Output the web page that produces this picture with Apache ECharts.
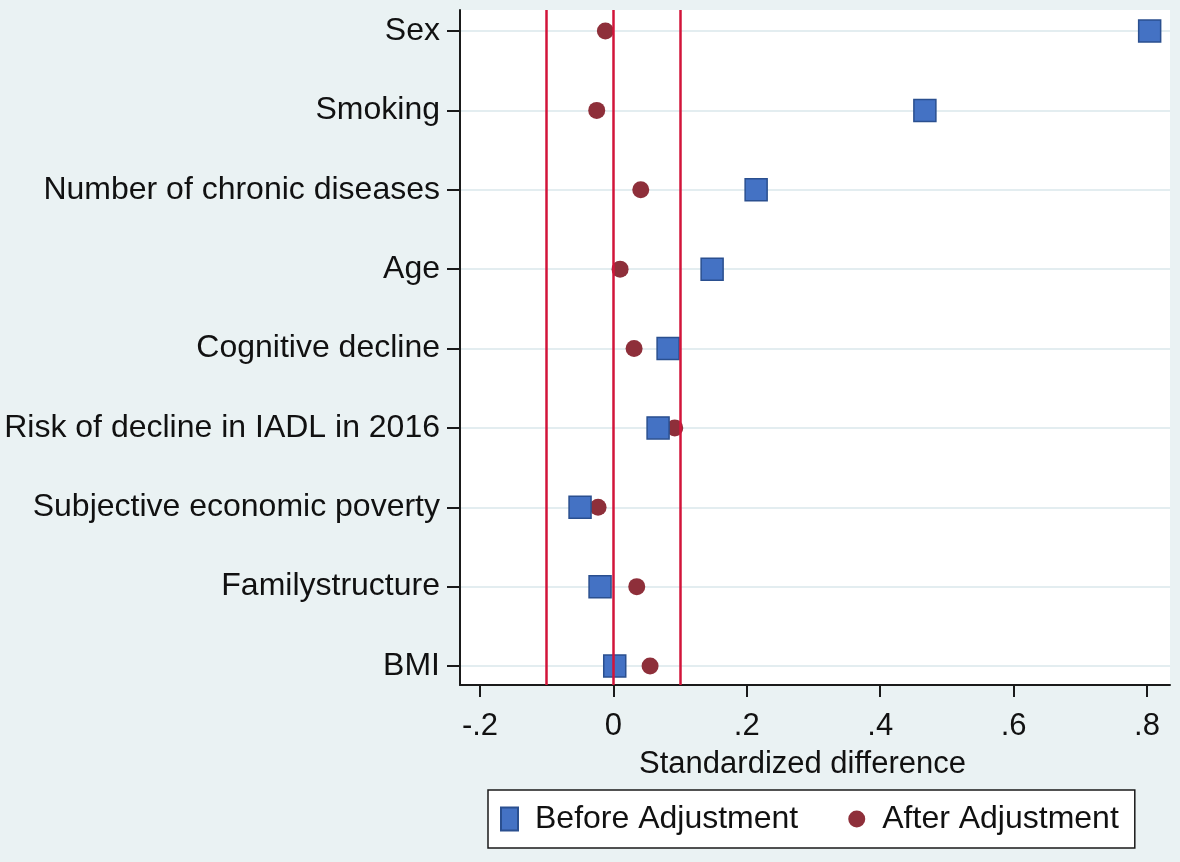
<!DOCTYPE html>
<html>

<head>
  <meta charset="utf-8">
  <title>Standardized difference</title>
  <script src="https://cdn.jsdelivr.net/npm/echarts/dist/echarts.min.js"></script>
  <style>
    html, body { margin: 0; padding: 0; background: #eaf2f3; }
    #chart { width: 1180px; height: 862px; }
  </style>
</head>

<body>
  <div id="chart"></div>
  <script>
    // covariates, top to bottom
    var categories = ['Sex', 'Smoking', 'Number of chronic diseases', 'Age', 'Cognitive decline',
      'Risk of decline in IADL in 2016', 'Subjective economic poverty', 'Familystructure', 'BMI'];
    var beforeAdj = [0.804, 0.467, 0.214, 0.148, 0.082, 0.067, -0.050, -0.020, 0.002];
    var afterAdj = [-0.012, -0.025, 0.041, 0.010, 0.031, 0.092, -0.023, 0.035, 0.055];
    var refLines = [-0.1, 0, 0.1];
    var xTicks = { min: -0.2, max: 0.8, step: 0.2 };

    var font = 'Liberation Sans, Arial, sans-serif';
    // plot frame runs a bit wider than the tick range
    var xMin = -0.23, xMax = 0.8345;

    var chart = echarts.init(document.getElementById('chart'));
    var option = {
      backgroundColor: '#eaf2f3',
      animation: false,
      textStyle: { fontFamily: font },
      grid: [
        // 0: category rows (labels, ticks, row lines, points)
        { left: 460, right: 10, top: 31, bottom: 196 },
        // 1: white plot frame with axis lines and reference lines
        { left: 460, right: 10, top: 10, bottom: 177, show: true, backgroundColor: '#ffffff', borderWidth: 0 },
        // 2: x ticks and labels
        { left: 480, right: 33, top: 31, bottom: 177 }
      ],
      xAxis: [
        { gridIndex: 0, type: 'value', min: xMin, max: xMax, show: false },
        {
          gridIndex: 1, type: 'value', min: xMin, max: xMax,
          axisLine: { show: true, onZero: false, lineStyle: { color: '#1a1a1a', width: 2 } },
          axisTick: { show: false }, axisLabel: { show: false }, splitLine: { show: false }
        },
        {
          gridIndex: 2, type: 'value', min: xTicks.min, max: xTicks.max, interval: xTicks.step,
          axisLine: { show: false, onZero: false },
          axisTick: { show: true, length: 12, lineStyle: { color: '#1a1a1a', width: 2 } },
          splitLine: { show: false },
          axisLabel: {
            margin: 26, fontSize: 31, color: '#111', fontFamily: font,
            formatter: function (v) {
              if (Math.abs(v) < 1e-9) return '0';
              return String(+v.toFixed(1)).replace('0.', '.');
            }
          },
          name: 'Standardized difference',
          nameLocation: 'middle',
          nameGap: 64,
          nameTextStyle: { fontSize: 31, color: '#111', fontFamily: font, padding: [0, 22, 0, 0] }
        }
      ],
      yAxis: [
        {
          gridIndex: 0, type: 'category', data: categories, inverse: true, boundaryGap: false,
          axisLine: { show: false, onZero: false },
          axisTick: { show: true, length: 13, lineStyle: { color: '#1a1a1a', width: 2 } },
          axisLabel: { margin: 20, fontSize: 32, color: '#111', fontFamily: font },
          splitLine: { show: true, lineStyle: { color: '#e3edf0', width: 2 } }
        },
        {
          gridIndex: 1, type: 'value', min: 0, max: 1,
          axisLine: { show: true, onZero: false, lineStyle: { color: '#1a1a1a', width: 2 } },
          axisTick: { show: false }, axisLabel: { show: false }, splitLine: { show: false }
        },
        { gridIndex: 2, type: 'value', min: 0, max: 1, show: false }
      ],
      legend: {
        left: 488, top: 790,
        orient: 'horizontal',
        data: [
          { name: 'Before Adjustment', icon: 'rect' },
          { name: 'After Adjustment', icon: 'circle' }
        ],
        itemWidth: 17, itemHeight: 23, itemGap: 50,
        padding: [11, 16, 11, 12],
        backgroundColor: '#ffffff', borderColor: '#1a1a1a', borderWidth: 1.5,
        selectedMode: false,
        textStyle: { fontSize: 32, color: '#111', fontFamily: font, padding: [0, 0, 0, 12], lineHeight: 36 }
      },
      series: [
        {
          name: 'ref', type: 'scatter', xAxisIndex: 1, yAxisIndex: 1,
          data: refLines.map(function (v) { return [v, 0]; }),
          symbolSize: 0, silent: true,
          markLine: {
            silent: true, symbol: 'none', label: { show: false },
            lineStyle: { color: '#d2143a', width: 2.5, type: 'solid' },
            data: refLines.map(function (v) { return { xAxis: v }; })
          }
        },
        {
          name: 'After Adjustment', type: 'scatter', xAxisIndex: 0, yAxisIndex: 0,
          symbol: 'circle', symbolSize: 17,
          itemStyle: { color: '#8e2f3a', opacity: 1 },
          data: afterAdj.map(function (v, i) { return [v, categories[i]]; })
        },
        {
          name: 'Before Adjustment', type: 'scatter', xAxisIndex: 0, yAxisIndex: 0,
          symbol: 'rect', symbolSize: 22,
          itemStyle: { color: '#4472c4', borderColor: '#2a4f8f', borderWidth: 1.5, opacity: 1 },
          data: beforeAdj.map(function (v, i) { return [v, categories[i]]; })
        }
      ]
    };
    chart.setOption(option);
  </script>
</body>

</html>
